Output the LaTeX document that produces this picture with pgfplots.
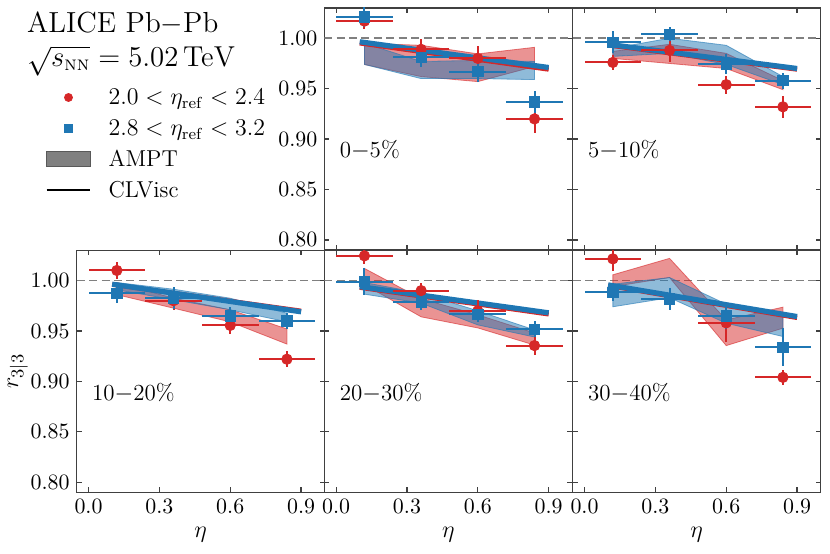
\documentclass[border=0pt]{standalone}
\usepackage{pgfplots}
\pgfplotsset{compat=1.18}
\usepackage{amsmath}
\definecolor{tabred}{HTML}{D62728}
\definecolor{tabblue}{HTML}{1F77B4}
\tikzset{plab/.style={font=\fontsize{11.5}{13}\selectfont, anchor=base west}}
\pgfplotsset{
  panel/.style={
    scale only axis, width=124pt, height=121pt, anchor=south west,
    xmin=-0.05, xmax=1.0, ymin=0.79, ymax=1.03,
    xtick={0,0.3,0.6,0.9}, ytick={0.8,0.85,0.9,0.95,1.0},
    tick align=inside, major tick length=2.5pt,
    axis line style={black!75, line width=0.6pt},
    tick style={black!75, line width=0.6pt},
    xticklabel style={/pgf/number format/.cd,fixed,fixed zerofill,precision=1},
    yticklabel style={/pgf/number format/.cd,fixed,fixed zerofill,precision=2},
    tick label style={font=\fontsize{10.5}{12}\selectfont},
    label style={font=\fontsize{12.5}{14}\selectfont},
  },
  noxl/.style={xticklabels={}},
  noyl/.style={yticklabels={}},
  unity/.style={gray, dash pattern=on 4pt off 2.2pt, line width=0.9pt, forget plot},
  errs/.style={error bars/x dir=both, error bars/x explicit, error bars/y dir=both, error bars/y explicit,
    error bars/error mark=none, error bars/error bar style={line width=1pt, #1}},
  redpts/.style={only marks, mark=*, mark size=2.6pt, color=tabred,
    mark options={solid, fill=tabred, draw=tabred}, errs=tabred, forget plot},
  bluepts/.style={only marks, mark=square*, mark size=2.6pt, color=tabblue,
    mark options={solid, fill=tabblue, draw=tabblue}, errs=tabblue, forget plot},
  redband/.style={fill=tabred, fill opacity=0.5, draw=tabred, draw opacity=0.6, line width=0.4pt, forget plot},
  blueband/.style={fill=tabblue, fill opacity=0.5, draw=tabblue, draw opacity=0.6, line width=0.4pt, forget plot},
  redline/.style={tabred, line width=2.2pt, forget plot},
  blueline/.style={tabblue, line width=2.6pt, forget plot},
  legred/.style={legend image code/.code={\path[draw=none,fill=none] (0pt,-5pt) rectangle (21.8pt,5pt);
    \path[draw=none, mark=*, mark size=2pt, mark options={fill=tabred, draw=tabred}] plot coordinates {(10.9pt,0pt)};}},
  legblue/.style={legend image code/.code={\path[draw=none,fill=none] (0pt,-5pt) rectangle (21.8pt,5pt);
    \path[draw=none, mark=square*, mark size=2pt, mark options={fill=tabblue, draw=tabblue}] plot coordinates {(10.9pt,0pt)};}},
  legampt/.style={legend image code/.code={\path[draw=none,fill=none] (0pt,-5pt) rectangle (21.8pt,5pt);
    \path[fill=black!50, draw=black!65, line width=0.5pt] (0pt,-3.75pt) rectangle (21.8pt,3.75pt);}},
  legclv/.style={legend image code/.code={\path[draw=none,fill=none] (0pt,-5pt) rectangle (21.8pt,5pt);
    \path[draw=black, line width=1pt] (0pt,0pt) -- (21.8pt,0pt);}},
}
\begin{document}
\begin{tikzpicture}
\path (0,0) rectangle (415pt,276.5pt);
\node[anchor=base west, font=\fontsize{14.5}{16.8}\selectfont, inner sep=0pt] at (13.4pt,260pt)
  {\begin{tabular}[t]{@{}l@{}}ALICE Pb$-$Pb\\ $\sqrt{s_{\text{\textsc{nn}}}} = 5.02\,\mathrm{TeV}$\end{tabular}};

% ---------------- 0-5% ----------------
\begin{axis}[panel, noxl, at={(162.15pt,151.5pt)},
  legend style={draw=none, fill=none, inner sep=0pt, outer sep=0pt,
    at={(-1.1234,0.6777)}, anchor=north west, row sep=4pt, column sep=8.7pt,
    font=\fontsize{11.5}{13}\selectfont,
    nodes={inner sep=0pt, text height=9.5pt, text depth=2pt}},
  legend cell align=left]
\addlegendimage{legred}
\addlegendentry{$2.0 < \eta_{\mathrm{ref}} < 2.4$}
\addlegendimage{legblue}
\addlegendentry{$2.8 < \eta_{\mathrm{ref}} < 3.2$}
\addlegendimage{legampt}
\addlegendentry{AMPT}
\addlegendimage{legclv}
\addlegendentry{CLVisc}
\addplot[unity] coordinates {(-0.05,1) (1.0,1)};
\addplot[redband] coordinates {(0.12,0.995)(0.36,0.993)(0.60,0.9845)(0.84,0.991)(0.84,0.972)(0.60,0.957)(0.36,0.962)(0.12,0.974)} -- cycle;
\addplot[blueband] coordinates {(0.12,0.995)(0.36,0.977)(0.60,0.978)(0.84,0.977)(0.84,0.959)(0.60,0.960)(0.36,0.960)(0.12,0.974)} -- cycle;
\addplot[redline] coordinates {(0.1,0.995)(0.9,0.969)};
\addplot[blueline] coordinates {(0.1,0.9965)(0.9,0.971)};
\addplot[redpts] table[x=x,y=y,x error=ex,y error=ey] {
x y ex ey
0.12 1.017 0.12 0.008
0.36 0.989 0.12 0.010
0.60 0.980 0.12 0.012
0.84 0.920 0.12 0.014
};
\addplot[bluepts] table[x=x,y=y,x error=ex,y error=ey] {
x y ex ey
0.12 1.021 0.12 0.010
0.36 0.981 0.12 0.010
0.60 0.967 0.12 0.010
0.84 0.937 0.12 0.011
};
\node[plab] at (rel axis cs:0.034,0.381) {0$-$5\%};
\end{axis}

% ---------------- 5-10% ----------------
\begin{axis}[panel, noxl, noyl, at={(286.35pt,151.5pt)}]
\addplot[unity] coordinates {(-0.05,1) (1.0,1)};
\addplot[redband] coordinates {(0.12,0.987)(0.36,0.994)(0.60,0.985)(0.84,0.958)(0.84,0.949)(0.60,0.970)(0.36,0.975)(0.12,0.980)} -- cycle;
\addplot[blueband] coordinates {(0.12,0.990)(0.36,1.000)(0.60,0.993)(0.84,0.962)(0.84,0.954)(0.60,0.974)(0.36,0.985)(0.12,0.982)} -- cycle;
\addplot[redline] coordinates {(0.1,0.993)(0.9,0.969)};
\addplot[blueline] coordinates {(0.1,0.994)(0.9,0.970)};
\addplot[redpts] table[x=x,y=y,x error=ex,y error=ey] {
x y ex ey
0.12 0.976 0.12 0.0075
0.36 0.988 0.12 0.012
0.60 0.954 0.12 0.009
0.84 0.932 0.12 0.011
};
\addplot[bluepts] table[x=x,y=y,x error=ex,y error=ey] {
x y ex ey
0.12 0.996 0.12 0.011
0.36 1.004 0.12 0.007
0.60 0.9745 0.12 0.010
0.84 0.958 0.12 0.008
};
\node[plab] at (rel axis cs:0.034,0.381) {5$-$10\%};
\end{axis}

% ---------------- 10-20% ----------------
\begin{axis}[panel, at={(38.35pt,30.35pt)}, xlabel={$\eta$}, ylabel={$r_{3|3}$},
  ylabel style={at={(axis description cs:-0.237,0.5)}, anchor=center}]
\addplot[unity] coordinates {(-0.05,1) (1.0,1)};
\addplot[redband] coordinates {(0.12,0.998)(0.36,0.9825)(0.60,0.971)(0.84,0.952)(0.84,0.937)(0.60,0.959)(0.36,0.9726)(0.12,0.986)} -- cycle;
\addplot[blueband] coordinates {(0.12,0.998)(0.36,0.9914)(0.60,0.9825)(0.84,0.9676)(0.84,0.959)(0.60,0.971)(0.36,0.981)(0.12,0.9908)} -- cycle;
\addplot[redline] coordinates {(0.1,0.996)(0.9,0.970)};
\addplot[blueline] coordinates {(0.1,0.9964)(0.9,0.969)};
\addplot[redpts] table[x=x,y=y,x error=ex,y error=ey] {
x y ex ey
0.12 1.010 0.12 0.008
0.36 0.980 0.12 0.009
0.60 0.9555 0.12 0.009
0.84 0.922 0.12 0.008
};
\addplot[bluepts] table[x=x,y=y,x error=ex,y error=ey] {
x y ex ey
0.12 0.9875 0.12 0.010
0.36 0.9825 0.12 0.011
0.60 0.965 0.12 0.009
0.84 0.960 0.12 0.008
};
\node[plab] at (rel axis cs:0.034,0.381) {10$-$20\%};
\end{axis}

% ---------------- 20-30% ----------------
\begin{axis}[panel, noyl, at={(162.15pt,30.35pt)}, xlabel={$\eta$}]
\addplot[unity] coordinates {(-0.05,1) (1.0,1)};
\addplot[redband] coordinates {(0.12,1.012)(0.36,0.982)(0.60,0.966)(0.84,0.948)(0.84,0.936)(0.60,0.953)(0.36,0.964)(0.12,0.996)} -- cycle;
\addplot[blueband] coordinates {(0.12,0.998)(0.36,0.9875)(0.60,0.970)(0.84,0.951)(0.84,0.944)(0.60,0.956)(0.36,0.9776)(0.12,0.9865)} -- cycle;
\addplot[redline] coordinates {(0.1,0.993)(0.9,0.9665)};
\addplot[blueline] coordinates {(0.1,0.994)(0.9,0.968)};
\addplot[redpts] table[x=x,y=y,x error=ex,y error=ey] {
x y ex ey
0.12 1.0245 0.12 0.008
0.36 0.990 0.12 0.0075
0.60 0.970 0.12 0.011
0.84 0.9355 0.12 0.0095
};
\addplot[bluepts] table[x=x,y=y,x error=ex,y error=ey] {
x y ex ey
0.12 0.999 0.12 0.013
0.36 0.9786 0.12 0.0075
0.60 0.9666 0.12 0.0075
0.84 0.9518 0.12 0.008
};
\node[plab] at (rel axis cs:0.034,0.381) {20$-$30\%};
\end{axis}

% ---------------- 30-40% ----------------
\begin{axis}[panel, noyl, at={(286.35pt,30.35pt)}, xlabel={$\eta$}]
\addplot[unity] coordinates {(-0.05,1) (1.0,1)};
\addplot[redband] coordinates {(0.12,1.0057)(0.36,1.022)(0.60,0.961)(0.84,0.9736)(0.84,0.9528)(0.60,0.9355)(0.36,1.003)(0.12,0.994)} -- cycle;
\addplot[blueband] coordinates {(0.12,0.9964)(0.36,1.003)(0.60,0.9766)(0.84,0.9676)(0.84,0.9445)(0.60,0.9577)(0.36,0.983)(0.12,0.974)} -- cycle;
\addplot[redline] coordinates {(0.1,0.995)(0.9,0.963)};
\addplot[blueline] coordinates {(0.1,0.9957)(0.9,0.9643)};
\addplot[redpts] table[x=x,y=y,x error=ex,y error=ey] {
x y ex ey
0.12 1.0215 0.12 0.012
0.36 0.982 0.12 0.009
0.60 0.958 0.12 0.019
0.84 0.904 0.12 0.0075
};
\addplot[bluepts] table[x=x,y=y,x error=ex,y error=ey] {
x y ex ey
0.12 0.9885 0.12 0.009
0.36 0.982 0.12 0.011
0.60 0.965 0.12 0.013
0.84 0.934 0.12 0.019
};
\node[plab] at (rel axis cs:0.034,0.381) {30$-$40\%};
\end{axis}
\end{tikzpicture}
\end{document}
